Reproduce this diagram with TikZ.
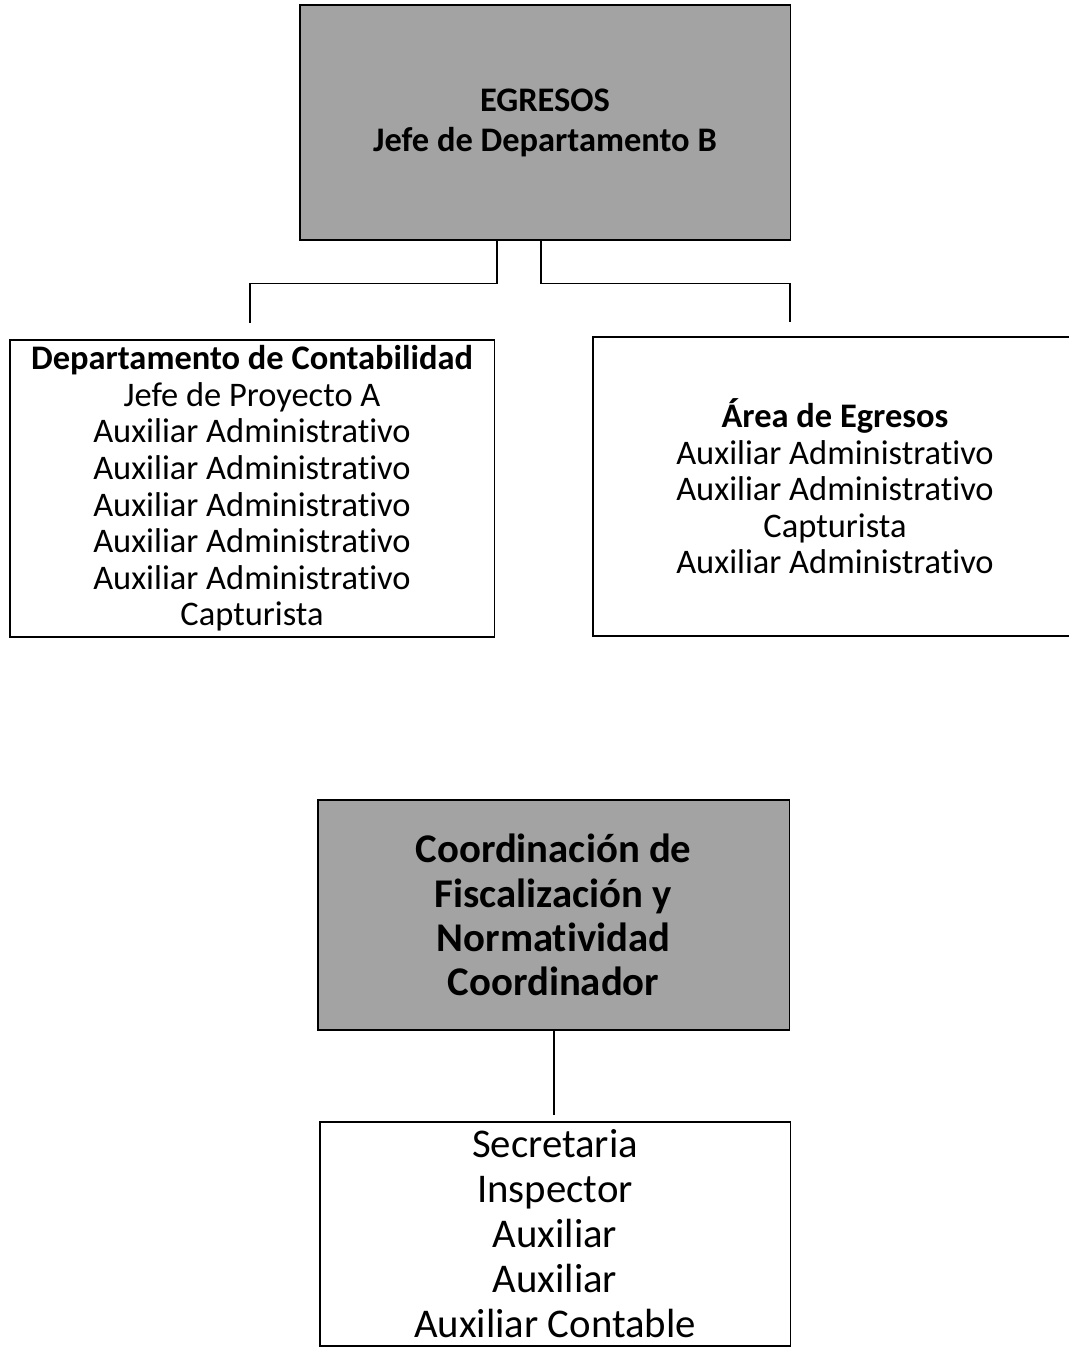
\documentclass[tikz,border=0pt]{standalone}
\usepackage{fontspec}
\setmainfont{Carlito}[Ligatures=NoCommon]
\begin{document}
\begin{tikzpicture}[x=0.025cm,y=-0.025cm,
  cargo/.style={draw,line width=0.8pt,align=center,inner sep=0pt,font=\fontsize{24.5}{26}\selectfont},
  jefatura/.style={cargo,fill=black!36,font=\bfseries\fontsize{24.5}{28.5}\selectfont},
  linea/.style={line width=1pt}]
\useasboundingbox (0,0) rectangle (1069,1348);
% primer organigrama
\node[jefatura,minimum width=12.25cm,minimum height=5.875cm] (egresos) at (545,122.5) {EGRESOS\\Jefe de Departamento B};
\node[cargo,minimum width=12.1cm,minimum height=7.425cm] (contabilidad) at (252,488.5) {\textbf{Departamento de Contabilidad}\\Jefe de Proyecto A\\Auxiliar Administrativo\\Auxiliar Administrativo\\Auxiliar Administrativo\\Auxiliar Administrativo\\Auxiliar Administrativo\\Capturista};
\node[cargo,minimum width=12.1cm,minimum height=7.475cm] (area) at (835,486.5) {\textbf{Área de Egresos}\\Auxiliar Administrativo\\Auxiliar Administrativo\\Capturista\\Auxiliar Administrativo};
\coordinate (finA) at (250,323);
\coordinate (finB) at (790,322);
\draw[linea] ([xshift=-1.2cm]egresos.south) -- ++(0,43) -| (finA);
\draw[linea] ([xshift=-0.1cm]egresos.south) -- ++(0,43) -| (finB);
% segundo organigrama
\node[jefatura,font=\bfseries\fontsize{29}{31.5}\selectfont,minimum width=11.775cm,minimum height=5.75cm] (coordinacion) at (553.5,915) {Coordinación de\\Fiscalización y\\Normatividad\\Coordinador};
\node[cargo,font=\fontsize{29}{32}\selectfont,minimum width=11.75cm,minimum height=5.6cm] (personal) at (555,1234) {Secretaria\\Inspector\\Auxiliar\\Auxiliar\\Auxiliar Contable};
\coordinate (finC) at (554,1115);
\draw[linea] (coordinacion.south -| finC) -- (finC);
\end{tikzpicture}
\end{document}
